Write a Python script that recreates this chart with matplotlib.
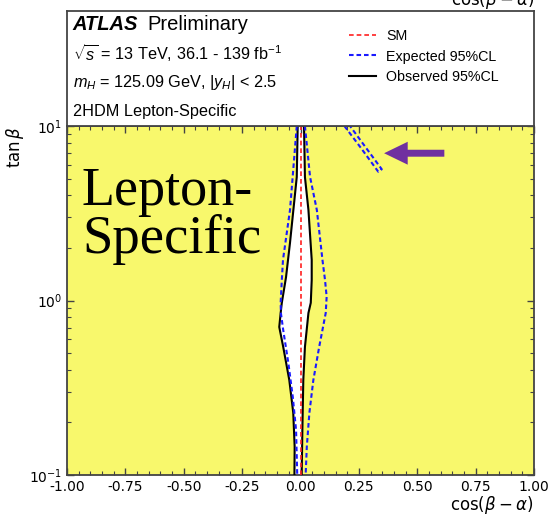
import matplotlib
matplotlib.use('Agg')
import matplotlib.pyplot as plt
import numpy as np
from matplotlib.patches import FancyArrowPatch
from matplotlib.lines import Line2D
from matplotlib.ticker import MultipleLocator, LogLocator, NullFormatter

# observed 95% CL contour (two branches around cos(b-a)=0)
obs_left_tb = [10, 5.1, 2.14, 1.36, 0.97, 0.848, 0.705, 0.542, 0.35, 0.227, 0.145, 0.1]
obs_left_cba = [-0.012, -0.016, -0.045, -0.062, -0.080, -0.085, -0.091, -0.074, -0.048, -0.031, -0.025, -0.026]
obs_right_tb = [10, 5.1, 3.3, 1.71, 1.31, 0.97, 0.848, 0.542, 0.35, 0.181, 0.1]
obs_right_cba = [0.015, 0.019, 0.034, 0.048, 0.048, 0.044, 0.034, 0.019, 0.012, 0.008, 0.005]

# expected 95% CL contour
exp_left_tb = [10, 3.3, 1.71, 1.31, 0.97, 0.848, 0.677, 0.438, 0.28, 0.181, 0.1]
exp_left_cba = [-0.016, -0.045, -0.075, -0.080, -0.085, -0.084, -0.074, -0.052, -0.033, -0.019, -0.014]
exp_right_tb = [10, 5.1, 3.3, 1.71, 1.31, 1.05, 0.848, 0.542, 0.35, 0.227, 0.145, 0.1]
exp_right_cba = [0.019, 0.041, 0.070, 0.094, 0.105, 0.112, 0.108, 0.080, 0.055, 0.038, 0.027, 0.022]
exp_island_tb = [10, 7.48, 5.47, 5.65, 7.58, 10]
exp_island_cba = [0.188, 0.259, 0.333, 0.348, 0.278, 0.212]

sm_cba = 0.0
x_ticks = [-1.0, -0.75, -0.5, -0.25, 0.0, 0.25, 0.5, 0.75, 1.0]

header_lines = [r'$\sqrt{s}$ = 13 TeV, 36.1 - 139 fb$^{-1}$',
                r'$m_H$ = 125.09 GeV, $|y_H|$ < 2.5',
                '2HDM Lepton-Specific']
legend_labels = ['SM', 'Expected 95%CL', 'Observed 95%CL']

plt.rcParams['mathtext.fontset'] = 'custom'
plt.rcParams['mathtext.rm'] = 'Liberation Sans'
plt.rcParams['mathtext.it'] = 'Liberation Sans:italic'
plt.rcParams['mathtext.bf'] = 'Liberation Sans:bold'

yellow = '#f8f86c'
spine_col = '#444444'
exp_style = dict(color='#1a1aff', lw=1.5, linestyle=(0, (2.2, 1.4)))
obs_style = dict(color='black', lw=1.5)
sm_style = dict(color='#ff2020', lw=1.2, linestyle=(0, (2.8, 1.8)))

fig = plt.figure(figsize=(5.52, 5.14), dpi=100)
W, H = 552.0, 514.0
ax = fig.add_axes([67 / W, (H - 475) / H, 467 / W, 349 / H])
ax.set_facecolor(yellow)

# allowed region in white
ax.fill(np.concatenate([obs_left_cba, obs_right_cba[::-1]]),
        np.concatenate([obs_left_tb, obs_right_tb[::-1]]),
        color='white', lw=0, zorder=1)

ax.plot(obs_left_cba, obs_left_tb, zorder=3, **obs_style)
ax.plot(obs_right_cba, obs_right_tb, zorder=3, **obs_style)
ax.plot(exp_left_cba, exp_left_tb, zorder=4, **exp_style)
ax.plot(exp_right_cba, exp_right_tb, zorder=4, **exp_style)
ax.plot(exp_island_cba, exp_island_tb, zorder=4, **exp_style)
ax.axvline(sm_cba, zorder=5, **sm_style)

ax.set_yscale('log')
ax.set_xlim(-1, 1)
ax.set_ylim(0.1, 10)
ax.set_xticks(x_ticks)
ax.set_xticklabels(['%.2f' % t for t in x_ticks])
ax.xaxis.set_minor_locator(MultipleLocator(0.05))
ax.yaxis.set_major_locator(LogLocator(base=10, numticks=5))
ax.yaxis.set_minor_locator(LogLocator(base=10, subs=np.arange(2, 10), numticks=20))
ax.yaxis.set_minor_formatter(NullFormatter())
ax.tick_params(which='both', direction='in', top=True, right=True, colors=spine_col,
               labelcolor='black', labelsize=10)
ax.tick_params(which='major', length=5, width=1)
ax.tick_params(which='minor', length=3, width=0.8)
for s in ax.spines.values():
    s.set_color(spine_col)
    s.set_linewidth(1.3)

ax.set_xlabel(r'$\cos(\beta-\alpha)$', loc='right', fontsize=12, labelpad=0, math_fontfamily='dejavusans')
ax.set_ylabel(r'$\tan\beta$', fontsize=12, math_fontfamily='dejavusans')
ax.yaxis.set_label_coords(-0.088, 1.0)
ax.yaxis.label.set_horizontalalignment('right')

# big annotation and arrow
ax.text(0.032, 0.774, 'Lepton-', transform=ax.transAxes, fontsize=39,
        family='Liberation Serif', va='baseline', zorder=6)
ax.text(0.032, 0.636, 'Specific', transform=ax.transAxes, fontsize=39.5,
        family='Liberation Serif', va='baseline', zorder=6)
arrow = FancyArrowPatch((0.808, 0.922), (0.679, 0.922), transform=ax.transAxes,
                        arrowstyle='simple,head_length=1.7,head_width=1.65,tail_width=0.5',
                        mutation_scale=10, color='#7030a0', lw=0, shrinkA=0, shrinkB=0, zorder=6)
ax.add_patch(arrow)

# header box
axh = fig.add_axes([67 / W, (H - 126) / H, 467 / W, 115.2 / H])
axh.set_xticks([])
axh.set_yticks([])
for s in axh.spines.values():
    s.set_color(spine_col)
    s.set_linewidth(1.3)

hf = 'Liberation Sans'
axh.text(0.012, 0.837, 'ATLAS', fontsize=14.5, family=hf, weight='bold', style='italic', va='baseline')
axh.text(0.172, 0.837, 'Preliminary', fontsize=14.5, family=hf, va='baseline')
for txt, yb in zip(header_lines, [0.573, 0.34, 0.09]):
    axh.text(0.012, yb, txt, fontsize=11.7, family=hf, va='baseline')

styles = [sm_style, exp_style, obs_style]
for lab, st, yc in zip(legend_labels, styles, [0.790, 0.612, 0.436]):
    axh.add_line(Line2D([0.6038, 0.6606], [yc, yc], transform=axh.transAxes, **st))
    axh.text(0.683, yc - 0.044, lab, fontsize=10.3, family=hf, va='baseline')

# label of the panel above, cut at the top edge
fig.text(535 / W, (H - 5) / H, r'$\cos(\beta-\alpha)$', ha='right', va='baseline',
         fontsize=12, math_fontfamily='dejavusans')

fig.savefig('out.png', dpi=100)
